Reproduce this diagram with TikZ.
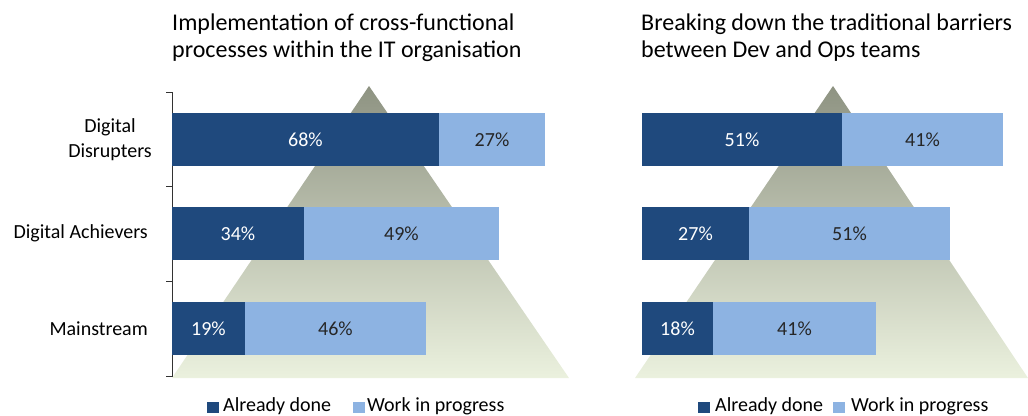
\documentclass[tikz,border=0pt]{standalone}
\usepackage{fontspec}
\setmainfont{Carlito}
\usepackage{tikz}
\usetikzlibrary{positioning}

\definecolor{donecol}{HTML}{1F497D}
\definecolor{wipcol}{HTML}{8DB3E2}
\definecolor{pyrtop}{HTML}{8E9382}
\definecolor{pyrbot}{HTML}{EBF1DE}

\tikzset{
	seg/.style={anchor=west,inner sep=0pt,outer sep=0pt,minimum height=53pt,font=\fontsize{20}{24}\selectfont},
	done/.style={seg,fill=donecol,text=white},
	wip/.style={seg,fill=wipcol,text=black!85},
	cat/.style={anchor=east,align=center,inner sep=0pt,font=\fontsize{20}{25}\selectfont},
	ttl/.style={anchor=north west,align=left,inner sep=0pt,font=\fontsize{24}{27}\selectfont},
	key/.style={inner sep=0pt,minimum width=12pt,minimum height=11pt},
	keytext/.style={anchor=base west,inner sep=0pt,font=\fontsize{20}{24}\selectfont}
}

\begin{document}
\begin{tikzpicture}[x=1pt,y=-1pt]
\useasboundingbox (0,0) rectangle (1028,415);
% pyramids
\shade[top color=pyrtop,bottom color=pyrbot] (369,86) -- (172,378) -- (569,378) -- cycle;
\shade[top color=pyrtop,bottom color=pyrbot] (833,86) -- (635,378) -- (1028,378) -- cycle;
% titles
\node[ttl] (t1) at (172,14) {Implementation of cross-functional\\processes within the IT organisation};
\node[ttl] (t2) at (641,14) {Breaking down the traditional barriers\\between Dev and Ops teams};
% axis
\coordinate (ax0) at (172,92);
\coordinate (ax3) at (172,377);
\draw[black!80,line width=0.9pt] (ax0) -- (ax3);
\foreach \ty in {92,186.5,281,376.5}
	\draw[black!80,line width=0.9pt] (166,\ty) -- (172,\ty);
% categories
\node[cat] (c1) at (152,140) {Digital\\Disrupters};
\node[cat] (c2) at (148,233.5) {Digital Achievers};
\node[cat] (c3) at (148,328.5) {Mainstream};
% left bars
\node[done,minimum width=267pt] (l1d) at (172,139.5) {68\%};
\node[wip,minimum width=106pt] (l1w) at (l1d.east) {27\%};
\node[done,minimum width=132pt] (l2d) at (172,233.5) {34\%};
\node[wip,minimum width=195pt] (l2w) at (l2d.east) {49\%};
\node[done,minimum width=73pt] (l3d) at (172,328.5) {19\%};
\node[wip,minimum width=181pt] (l3w) at (l3d.east) {46\%};
% right bars
\node[done,minimum width=200pt] (r1d) at (642,139.5) {51\%};
\node[wip,minimum width=161pt] (r1w) at (r1d.east) {41\%};
\node[done,minimum width=107pt] (r2d) at (642,233.5) {27\%};
\node[wip,minimum width=201pt] (r2w) at (r2d.east) {51\%};
\node[done,minimum width=71pt] (r3d) at (642,328.5) {18\%};
\node[wip,minimum width=163pt] (r3w) at (r3d.east) {41\%};
% legends
\node[key,fill=donecol] (k1) at (213,407) {};
\node[keytext] (k1t) at (223,411.5) {Already done};
\node[key,fill=wipcol] (k2) at (359,407) {};
\node[keytext] (k2t) at (367,411.5) {Work in progress};
\node[key,fill=donecol] (k3) at (704,407) {};
\node[keytext] (k3t) at (715,411.5) {Already done};
\node[key,fill=wipcol] (k4) at (839,407) {};
\node[keytext] (k4t) at (851,411.5) {Work in progress};
\end{tikzpicture}
\end{document}
